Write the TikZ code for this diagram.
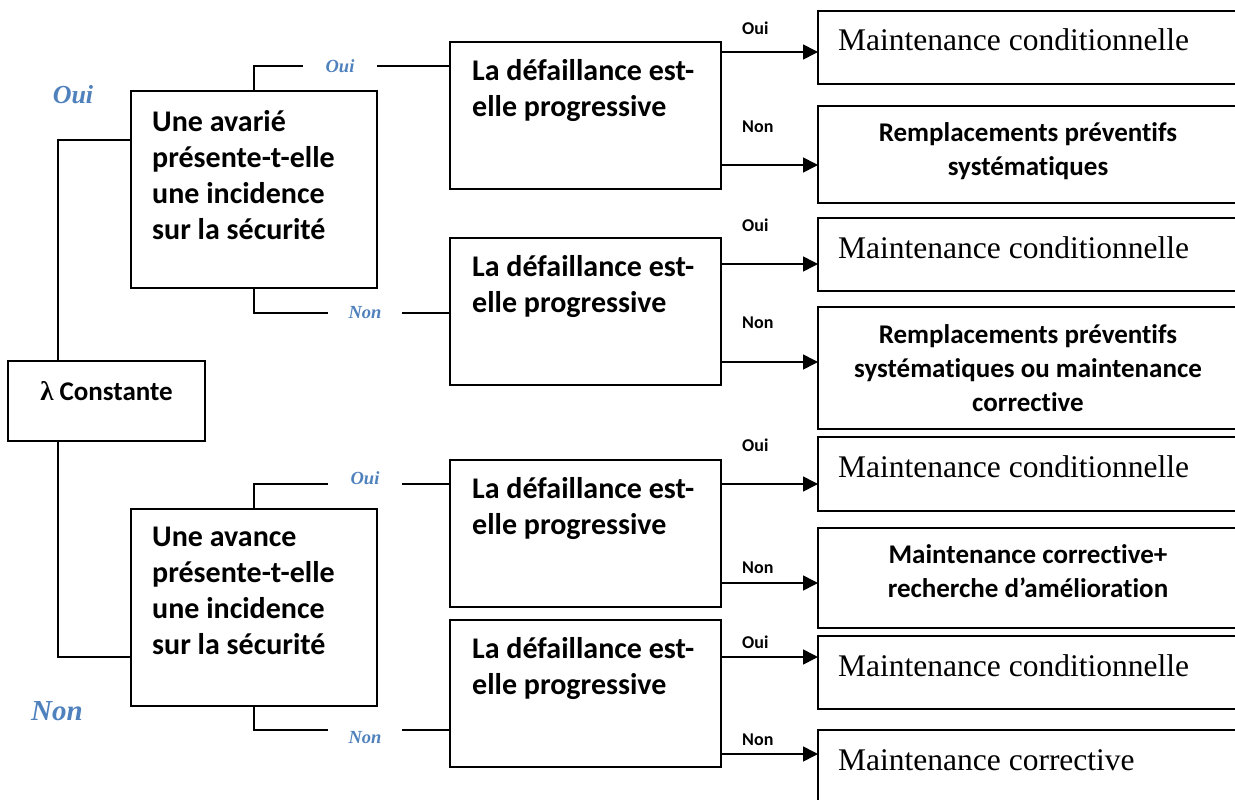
\documentclass[tikz,border=0pt]{standalone}
\usepackage{fontspec}
\setmainfont{Liberation Serif}
\setsansfont{Carlito}[Ligatures=NoCommon]
\usetikzlibrary{arrows.meta}
\definecolor{choiceblue}{RGB}{79,129,189}

\tikzset{
  box/.style={draw, line width=1.8pt, inner sep=0pt, outer sep=0pt},
  rbox/.style={box, minimum width=420pt},
  qtext/.style={font=\sffamily\bfseries\fontsize{30}{36}\selectfont, align=left, anchor=north west, inner sep=0pt},
  rtext/.style={font=\sffamily\bfseries\fontsize{27}{34}\selectfont, align=center, inner sep=0pt},
  stext/.style={font=\fontsize{31.5}{36}\selectfont, anchor=base west, inner sep=0pt},
  branch/.style={font=\sffamily\bfseries\fontsize{18}{20}\selectfont, anchor=west, inner sep=0pt},
  choice/.style={font=\bfseries\itshape\fontsize{18.5}{20}\selectfont, text=choiceblue, minimum width=74pt, inner sep=0pt},
  link/.style={line width=1.6pt},
  arr/.style={line width=1.6pt, -{Triangle[length=15pt,width=15pt]}}
}

\begin{document}
\begin{tikzpicture}[x=1pt,y=-1pt]
\useasboundingbox (0,0) rectangle (1235,800);
\clip (0,0) rectangle (1235,800);

% root
\node[box, minimum width=197pt, minimum height=80pt] (lam) at (106.5,401) {};
\node[font=\sffamily\bfseries\fontsize{27}{32}\selectfont, inner sep=0pt] (lamtxt) at (106.5,391) {{\rmfamily λ} Constante};
\node[font=\bfseries\itshape\fontsize{26}{28}\selectfont, text=choiceblue] (oui) at (73,95) {Oui};
\node[font=\bfseries\itshape\fontsize{29}{30}\selectfont, text=choiceblue] (non) at (57,711) {Non};

% safety questions
\node[box, minimum width=246pt, minimum height=197pt] (q1) at (254,189.5) {};
\node[qtext] (q1txt) at (152,110) {Une avarié\\présente-t-elle\\une incidence\\sur la sécurité};
\node[box, minimum width=246pt, minimum height=197pt] (q2) at (254,607.5) {};
\node[qtext] (q2txt) at (152,527) {Une avance\\présente-t-elle\\une incidence\\sur la sécurité};

\draw[link] ([xshift=-48.5pt]lam.north) |- (q1.west |- 0,140);
\draw[link] ([xshift=-48.5pt]lam.south) |- (q2.west |- 0,657);

% progressive failure questions
\node[box, minimum width=271pt, minimum height=147pt] (d1) at (585.5,115.5) {};
\node[qtext] (d1txt) at (472,59) {La défaillance est-\\elle progressive};
\node[box, minimum width=271pt, minimum height=147pt] (d2) at (585.5,311.5) {};
\node[qtext] (d2txt) at (472,255) {La défaillance est-\\elle progressive};
\node[box, minimum width=271pt, minimum height=147pt] (d3) at (585.5,533.5) {};
\node[qtext] (d3txt) at (472,477) {La défaillance est-\\elle progressive};
\node[box, minimum width=271pt, minimum height=147pt] (d4) at (585.5,693.5) {};
\node[qtext] (d4txt) at (472,637) {La défaillance est-\\elle progressive};

% yes / no from the safety questions
\node[choice] (c1) at (340,66) {Oui};
\node[choice] (c2) at (365,313) {Non};
\node[choice] (c3) at (365,478) {Oui};
\node[choice] (c4) at (365,738) {Non};
\draw[link] (q1.north) |- (c1.west);
\draw[link] (c1.east) -- (c1.east -| d1.west);
\draw[link] (q1.south) |- (c2.west);
\draw[link] (c2.east) -- (c2.east -| d2.west);
\draw[link] (q2.north) |- ([yshift=-6pt]c3.west);
\draw[link] ([yshift=-6pt]c3.east) -- ([yshift=-6pt]c3.east -| d3.west);
\draw[link] (q2.south) |- ([yshift=8pt]c4.west);
\draw[link] ([yshift=8pt]c4.east) -- ([yshift=8pt]c4.east -| d4.west);

% maintenance results
\node[rbox, minimum height=73pt] (r1) at (1028,47.5) {};
\node[stext] (r1txt) at (838,51) {Maintenance conditionnelle};
\node[rbox, minimum height=97pt] (r2) at (1028,154.5) {};
\node[rtext] (r2txt) at (1028,151) {Remplacements préventifs\\systématiques};
\node[rbox, minimum height=73pt] (r3) at (1028,254.5) {};
\node[stext] (r3txt) at (838,258) {Maintenance conditionnelle};
\node[rbox, minimum height=122pt] (r4) at (1028,368) {};
\node[rtext] (r4txt) at (1028,368) {Remplacements préventifs\\systématiques ou maintenance\\corrective};
\node[rbox, minimum height=74pt] (r5) at (1028,474) {};
\node[stext] (r5txt) at (838,477) {Maintenance conditionnelle};
\node[rbox, minimum height=100pt] (r6) at (1028,578) {};
\node[rtext] (r6txt) at (1028,571) {Maintenance corrective+\\recherche d’amélioration};
\node[rbox, minimum height=73pt] (r7) at (1028,672.5) {};
\node[stext] (r7txt) at (838,676) {Maintenance conditionnelle};
\node[rbox, minimum height=100pt] (r8) at (1028,780) {};
\node[stext] (r8txt) at (838,770) {Maintenance corrective};

% arrows
\draw[arr] (d1.east |- 0,52) -- (r1.west |- 0,52);
\draw[arr] (d1.east |- 0,165) -- (r2.west |- 0,165);
\draw[arr] (d2.east |- 0,264) -- (r3.west |- 0,264);
\draw[arr] (d2.east |- 0,362) -- (r4.west |- 0,362);
\draw[arr] (d3.east |- 0,484) -- (r5.west |- 0,484);
\draw[arr] (d3.east |- 0,583) -- (r6.west |- 0,583);
\draw[arr] (d4.east |- 0,657) -- (r7.west |- 0,657);
\draw[arr] (d4.east |- 0,754) -- (r8.west |- 0,754);
\node[branch] (b1) at (742,28) {Oui};
\node[branch] (b2) at (742,127) {Non};
\node[branch] (b3) at (742,225) {Oui};
\node[branch] (b4) at (742,323) {Non};
\node[branch] (b5) at (742,445) {Oui};
\node[branch] (b6) at (742,568) {Non};
\node[branch] (b7) at (742,642) {Oui};
\node[branch] (b8) at (742,740) {Non};
\end{tikzpicture}
\end{document}
